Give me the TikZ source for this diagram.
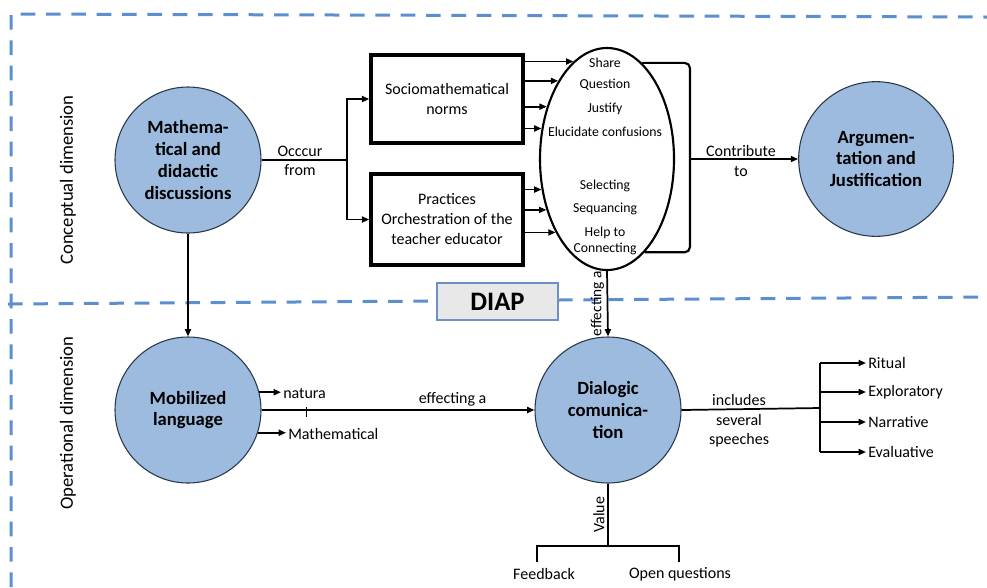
\documentclass[tikz,border=0pt]{standalone}
\usepackage{fontspec}
\setmainfont{Carlito}
\usetikzlibrary{shapes.geometric,arrows.meta}
\definecolor{dashblue}{RGB}{91,143,207}
\definecolor{circfill}{RGB}{157,187,222}
\definecolor{circline}{RGB}{40,55,75}
\definecolor{diapfill}{RGB}{232,232,232}
\definecolor{diapline}{RGB}{110,145,195}
\begin{document}
\begin{tikzpicture}[x=0.75pt,y=-0.75pt,
  frame/.style={draw=dashblue,line width=2.25pt,dash pattern=on 11pt off 8pt},
  circ/.style={circle,draw=circline,line width=0.8pt,fill=circfill,minimum size=109.5pt,inner sep=0pt,align=center,font=\fontsize{14}{16.3}\selectfont\bfseries},
  boxnode/.style={draw,line width=2.6pt,minimum width=114pt,align=center,font=\fontsize{12}{15}\selectfont},
  conn/.style={draw,line width=1.3pt},
  arr/.style={conn,-{Triangle[length=5.5pt,width=4.5pt]}},
  lbl/.style={align=center,inner sep=1pt,font=\fontsize{12}{14.5}\selectfont},
  elltxt/.style={inner sep=0pt,font=\fontsize{10.3}{11}\selectfont},
  dimtxt/.style={rotate=90,font=\fontsize{14}{16}\selectfont},
  sidetxt/.style={anchor=west,inner sep=1.5pt,font=\fontsize{12}{14}\selectfont}]
\useasboundingbox (0,0) rectangle (987,587);
% dashed frame
\draw[frame] (11,587) -- (11,14) -- (987,17);
\draw[frame] (8,304) -- (437,301);
\draw[frame] (558,300) -- (987,297);
% dimension labels
\node[dimtxt] (cd) at (68,180) {Conceptual dimension};
\node[dimtxt] (od) at (68,423) {Operational dimension};
% circles
\node[circ] (md) at (188,160) {Mathema-\\tical and\\didactic\\discussions};
\node[circ] (ml) at (188,410) {Mobilized\\language};
\node[circ] (dc) at (608,410) {Dialogic\\comunica-\\tion};
\node[circ,minimum size=116pt] (aj) at (876,159) {Argumen-\\tation and\\Justification};
% boxes
\node[boxnode,minimum height=66pt] (sn) at (447,99) {Sociomathematical\\norms};
\node[boxnode,minimum height=68pt] (pr) at (447,219.5) {Practices\\Orchestration of the\\teacher educator};
% ellipse
\node[draw,ellipse,line width=1.6pt,minimum width=100.5pt,minimum height=166.5pt,inner sep=0pt] (ell) at (607,159) {};
\node[elltxt] (e1) at (605,63) {Share};
\node[elltxt] (e2) at (605,85) {Question};
\node[elltxt] (e3) at (605,109) {Justify};
\node[elltxt] (e4) at (605,132) {Elucidate confusions};
\node[elltxt] (e5) at (605,186) {Selecting};
\node[elltxt] (e6) at (605,209) {Sequancing};
\node[elltxt] (e7) at (605,233) {Help to};
\node[elltxt] (e8) at (605,249) {Connecting};
% DIAP
\node[draw=diapline,fill=diapfill,line width=1pt,minimum width=90.75pt,minimum height=27.75pt,font=\fontsize{20}{22}\selectfont\bfseries] (diap) at (497.5,301.5) {DIAP};
% md -> boxes
\draw[conn] (md.east) -- (347,160) coordinate (sp);
\node[lbl] (occ) at (300,161) {Occcur\\from};
\draw[arr] (sp) |- (sn.west);
\draw[arr] (sp) |- (pr.west);
% boxes -> ellipse
\draw[arr] (ell.109.5 -| sn.east) -- (ell.109.5);
\draw[arr] (ell.122.8 -| sn.east) -- (ell.122.8);
\draw[arr] (ell.139.4 -| sn.east) -- (ell.139.4);
\draw[arr] (ell.155.1 -| sn.east) -- (ell.155.1);
\draw[arr] (ell.205.6 -| pr.east) -- (ell.205.6);
\draw[arr] (ell.220.6 -| pr.east) -- (ell.220.6);
\draw[arr] (ell.235.3 -| pr.east) -- (ell.235.3);
% bracket and contribute
\coordinate (br) at (690,159);
\draw[conn,line width=1.6pt,rounded corners=4pt] (ell.70.5) -- (ell.70.5 -| br) -- (ell.292.7 -| br) -- (ell.292.7);
\draw[arr] (br) -- (aj.west);
\node[lbl] (contr) at (741,161) {Contribute\\to};
% vertical arrows
\draw[arr] (md.south) -- (ml.north);
\draw[arr] (ell.south) -- node[midway,rotate=90,anchor=south,inner sep=2pt,font=\fontsize{11.5}{12}\selectfont] (eff2) {effecting a} (dc.north);
% mobilized language
\node[sidetxt] (nat) at (281,393) {natura};
\node[sidetxt] (mat) at (286,434) {Mathematical};
\draw[arr] (ml.14) -- (ml.14 -| nat.west);
\draw[arr] (ml.342.5) -- (ml.342.5 -| mat.west);
\draw[arr] (ml.east) -- node[lbl,pos=0.70,above=1pt] (eff1) {effecting a} (dc.west);
\path (ml.east) -- (dc.west) coordinate[pos=0.164] (tk);
\draw[line width=0.9pt] (tk) ++(0,-3) -- ++(0,10);
% speeches
\coordinate (sj) at (820,408);
\draw[conn] (dc.east) -- (sj);
\node[lbl] (inc) at (739,421) {includes\\several\\speeches};
\node[sidetxt] (rit) at (866,363) {Ritual};
\node[sidetxt] (exp) at (866,392) {Exploratory};
\node[sidetxt] (nar) at (866,422) {Narrative};
\node[sidetxt] (eva) at (866,452) {Evaluative};
\draw[conn,line width=1.6pt] (rit.west -| sj) -- (eva.west -| sj);
\draw[arr] (rit.west -| sj) -- (rit.west);
\draw[arr] (exp.west -| sj) -- (exp.west);
\draw[arr] (nar.west -| sj) -- (nar.west);
\draw[arr] (eva.west -| sj) -- (eva.west);
% value
\coordinate (vb) at (608,546);
\draw[conn] (dc.south) -- node[midway,rotate=90,anchor=south,inner sep=2pt,font=\fontsize{12}{13}\selectfont] (val) {Value} (vb);
\node[lbl] (fb) at (544,574) {Feedback};
\node[lbl] (oq) at (680,574) {Open questions};
\draw[conn,line width=1.6pt] (537,562) coordinate (vl) -- (vl |- vb) -- (679,546) coordinate (vr) -- (679,562);
\end{tikzpicture}
\end{document}
